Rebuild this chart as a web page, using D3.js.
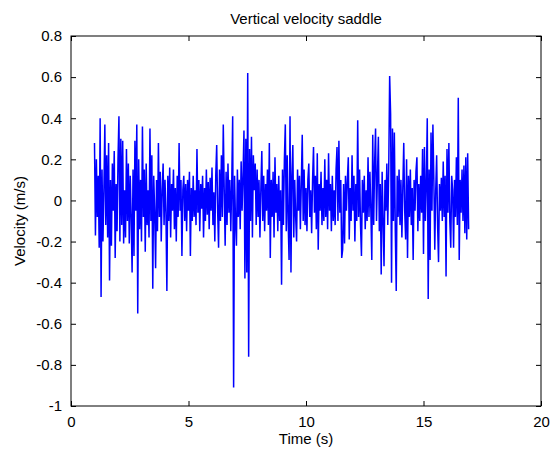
<!DOCTYPE html>
<html><head><meta charset="utf-8">
<script src="https://cdn.jsdelivr.net/npm/d3@7"></script>
<style>body{margin:0;background:#fff}svg{display:block}</style>
</head><body><svg id="c" width="553" height="450"></svg>
<script>
// sampling of the record
const startTime = 1.0;   // s
const sampleStep = 0.04; // s
// vertical velocity (m/s)
const velocity = [
 0.28,-0.17,0.20,-0.08,0.12,-0.23,0.40,-0.47,0.15,-0.20,
 0.05,0.37,-0.12,0.22,-0.18,0.28,-0.39,0.10,-0.22,0.18,
 -0.05,0.24,-0.28,0.08,-0.15,0.20,0.41,-0.20,0.30,-0.12,
 0.29,-0.21,0.05,-0.18,0.25,-0.10,0.18,-0.21,0.12,-0.08,
 -0.35,0.15,-0.27,0.29,-0.05,0.37,-0.55,0.20,-0.14,0.10,
 -0.20,0.36,-0.08,0.15,-0.25,0.18,-0.12,0.05,-0.18,0.35,
 -0.10,0.22,-0.43,0.12,-0.05,-0.33,0.10,-0.15,0.28,-0.08,
 0.14,-0.20,0.05,0.18,-0.12,0.10,-0.06,-0.44,0.12,-0.10,
 0.16,-0.18,0.08,-0.05,0.15,-0.14,0.06,-0.20,0.12,-0.08,
 0.28,-0.05,0.10,-0.27,0.05,0.12,-0.10,0.08,-0.15,0.10,
 -0.05,0.14,-0.27,0.06,-0.10,0.12,-0.08,0.05,-0.12,0.25,
 -0.06,0.10,-0.15,0.08,-0.04,0.12,-0.18,0.06,-0.10,0.15,
 -0.07,0.09,-0.14,0.11,-0.05,0.16,-0.12,0.04,-0.20,0.12,
 0.27,-0.05,-0.23,0.15,-0.10,0.22,-0.08,0.37,0.05,-0.22,
 0.14,-0.12,0.18,-0.06,0.10,-0.15,0.08,0.41,-0.91,0.12,
 -0.10,-0.22,0.15,-0.08,0.10,-0.14,0.19,-0.05,0.12,0.34,
 -0.38,0.30,-0.35,0.62,-0.76,0.25,-0.10,0.31,-0.18,0.22,
 0.05,0.18,-0.12,0.15,-0.08,0.10,-0.18,0.06,0.24,-0.10,
 0.12,-0.15,0.08,-0.05,0.15,-0.12,0.28,-0.28,0.10,-0.08,
 0.14,-0.18,0.21,-0.06,0.08,-0.15,0.12,-0.10,0.05,-0.41,
 0.15,-0.12,0.20,0.37,-0.15,0.22,-0.10,-0.29,0.41,-0.35,
 0.12,0.27,-0.18,0.10,-0.08,-0.20,0.15,-0.05,0.12,-0.14,
 0.08,0.32,-0.10,0.15,-0.12,0.06,-0.15,0.10,0.18,-0.08,
 0.05,-0.16,0.10,0.26,-0.06,0.12,-0.14,0.23,-0.24,0.08,
 -0.05,0.14,-0.12,0.06,-0.10,0.20,-0.08,0.10,-0.14,0.23,
 -0.05,0.08,-0.15,0.12,-0.10,0.05,-0.12,0.15,0.26,-0.10,
 0.29,-0.06,0.10,-0.28,-0.24,0.08,-0.21,0.12,-0.05,0.10,
 0.21,-0.19,0.06,-0.10,0.22,-0.05,0.12,-0.20,0.08,-0.10,
 0.39,-0.08,0.15,-0.12,-0.27,0.10,-0.06,0.12,-0.14,0.05,
 -0.10,0.21,-0.08,0.14,-0.05,-0.29,0.32,-0.12,0.18,0.35,
 -0.10,0.12,0.31,-0.15,0.08,-0.36,0.14,-0.10,-0.32,0.10,
 -0.05,0.18,-0.12,0.15,0.605,0.42,-0.40,0.35,-0.10,0.33,
 -0.15,-0.44,0.12,-0.08,0.15,-0.12,0.10,-0.18,0.06,0.28,
 -0.05,-0.19,0.20,-0.28,0.12,-0.08,0.15,-0.12,0.06,-0.29,
 0.10,-0.05,0.14,0.21,-0.15,0.08,-0.10,0.12,-0.06,0.25,
 -0.26,0.26,-0.10,0.08,0.40,-0.48,0.15,-0.29,0.33,-0.05,
 0.37,0.10,-0.24,0.05,0.22,-0.12,-0.30,0.08,-0.05,0.11,
 -0.10,0.19,-0.08,0.12,-0.37,0.25,-0.06,0.28,-0.10,-0.23,
 0.12,0.05,-0.23,0.10,-0.08,0.21,-0.12,0.50,-0.29,0.10,
 -0.06,0.15,-0.10,0.17,-0.16,0.21,-0.19,0.23,-0.14
];
const xTicks = [0, 5, 10, 15, 20];
const yTicks = [-1, -0.8, -0.6, -0.4, -0.2, 0, 0.2, 0.4, 0.6, 0.8];
const titleText = "Vertical velocity saddle";
const xLabel = "Time (s)";
const yLabel = "Velocity (m/s)";

const L = 71, R = 541, T = 36, B = 406;
const font = "'Liberation Sans', Arial, sans-serif";
const svg = d3.select("#c");
const x = d3.scaleLinear().domain([0, 20]).range([L, R]);
const y = d3.scaleLinear().domain([-1, 0.8]).range([B, T]);

const pts = velocity.map((v, i) => [startTime + i * sampleStep, v]);
const line = d3.line().x(d => x(d[0])).y(d => y(d[1]));
svg.append("path").datum(pts).attr("d", line)
  .attr("fill", "none").attr("stroke", "#0000ff").attr("stroke-width", 1.5)
  .attr("stroke-linejoin", "miter").attr("stroke-miterlimit", 1);

const fmt = d => String(d);
const tl = 5;
const styleTicks = g => {
  g.selectAll("path.domain").remove();
  g.selectAll("line").attr("stroke", "#000");
  g.selectAll("text").attr("font-family", font).attr("font-size", 15).attr("fill", "#000");
};
svg.append("g").attr("transform", `translate(0,${B})`)
  .call(d3.axisBottom(x).tickValues(xTicks).tickFormat(fmt).tickSizeInner(-tl).tickSizeOuter(0).tickPadding(10))
  .call(styleTicks);
svg.append("g").attr("transform", `translate(0,${T})`)
  .call(d3.axisTop(x).tickValues(xTicks).tickFormat("").tickSizeInner(-tl).tickSizeOuter(0))
  .call(styleTicks);
svg.append("g").attr("transform", `translate(${L},0)`)
  .call(d3.axisLeft(y).tickValues(yTicks).tickFormat(fmt).tickSizeInner(-tl).tickSizeOuter(0).tickPadding(9))
  .call(styleTicks);
svg.append("g").attr("transform", `translate(${R},0)`)
  .call(d3.axisRight(y).tickValues(yTicks).tickFormat("").tickSizeInner(-tl).tickSizeOuter(0))
  .call(styleTicks);

svg.append("rect").attr("x", L).attr("y", T).attr("width", R - L).attr("height", B - T)
  .attr("fill", "none").attr("stroke", "#000").attr("stroke-width", 1);

svg.append("text").attr("x", (L + R) / 2).attr("y", 24).attr("text-anchor", "middle")
  .attr("font-family", font).attr("font-size", 15).text(titleText);
svg.append("text").attr("x", (L + R) / 2).attr("y", 444).attr("text-anchor", "middle")
  .attr("font-family", font).attr("font-size", 15).text(xLabel);
svg.append("text").attr("transform", `translate(25,${(T + B) / 2}) rotate(-90)`).attr("text-anchor", "middle")
  .attr("font-family", font).attr("font-size", 15).text(yLabel);
</script></body></html>
